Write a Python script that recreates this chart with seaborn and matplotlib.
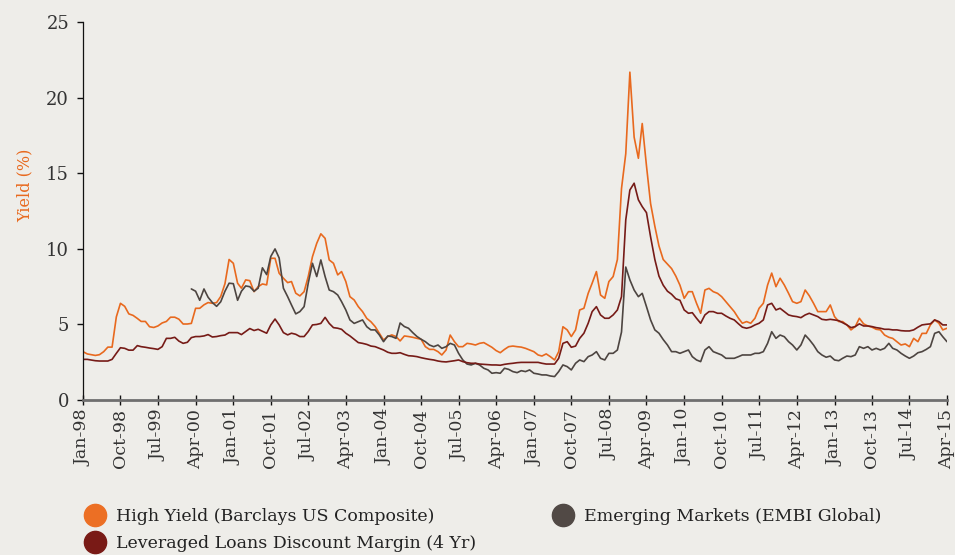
import matplotlib
matplotlib.use("Agg")
import matplotlib.pyplot as plt
from matplotlib.lines import Line2D
import numpy as np
import pandas as pd
import seaborn as sns

# monthly readings, Jan-98 .. Apr-15 (one row per year)
high_yield = [
    3.2, 3.05, 3.0, 2.95, 3.0, 3.2, 3.5, 3.5, 5.5, 6.4, 6.2, 5.7,
    5.6, 5.4, 5.2, 5.2, 4.85, 4.8, 4.9, 5.1, 5.2, 5.48, 5.48, 5.35,
    5.03, 5.03, 5.07, 6.07, 6.07, 6.3, 6.45, 6.4, 6.45, 6.85, 7.7, 9.3,
    9.05, 7.73, 7.4, 7.95, 7.9, 7.17, 7.5, 7.68, 7.62, 9.38, 9.38, 8.39,
    8.06, 7.77, 7.84, 7.07, 6.89, 7.17, 8.17, 9.49, 10.37, 11.0, 10.7, 9.27,
    9.05, 8.28, 8.5, 7.84, 6.84, 6.62, 6.18, 5.85, 5.4, 5.18, 4.86, 4.42,
    3.97, 4.2, 4.31, 4.2, 3.91, 4.24, 4.2, 4.15, 4.08, 4.02, 3.53, 3.35,
    3.35, 3.2, 2.98, 3.31, 4.3, 3.86, 3.53, 3.53, 3.75, 3.71, 3.64, 3.75,
    3.8, 3.64, 3.49, 3.27, 3.13, 3.35, 3.53, 3.57, 3.53, 3.5, 3.42, 3.31,
    3.2, 2.98, 2.91, 3.05, 2.87, 2.65, 3.2, 4.85, 4.64, 4.2, 4.64, 5.96,
    6.07, 7.06, 7.73, 8.5, 6.95, 6.73, 7.84, 8.17, 9.3, 14.0, 16.3, 21.7,
    17.4, 16.0, 18.3, 15.5, 13.0, 11.5, 10.2, 9.3, 9.0, 8.7, 8.2, 7.6,
    6.73, 7.17, 7.17, 6.4, 5.74, 7.28, 7.39, 7.17, 7.06, 6.84, 6.51, 6.18,
    5.85, 5.41, 5.08, 5.19, 5.08, 5.41, 6.07, 6.4, 7.61, 8.4, 7.5, 8.06,
    7.61, 7.06, 6.51, 6.4, 6.51, 7.28, 6.9, 6.4, 5.85, 5.85, 5.85, 6.29,
    5.52, 5.19, 5.19, 4.97, 4.64, 4.86, 5.41, 5.04, 4.9, 4.82, 4.68, 4.64,
    4.3, 4.15, 4.08, 3.86, 3.64, 3.71, 3.53, 4.08, 3.86, 4.41, 4.41, 4.97,
    5.3, 5.08, 4.64, 4.75,
]

lev_loans = [
    2.69, 2.69, 2.65, 2.6, 2.58, 2.58, 2.58, 2.69, 3.09, 3.46, 3.42, 3.3,
    3.3, 3.6, 3.53, 3.49, 3.44, 3.4, 3.35, 3.53, 4.08, 4.08, 4.15, 3.9,
    3.75, 3.82, 4.13, 4.2, 4.2, 4.24, 4.33, 4.17, 4.2, 4.26, 4.3, 4.46,
    4.46, 4.46, 4.33, 4.53, 4.73, 4.6, 4.68, 4.55, 4.42, 4.97, 5.36, 4.97,
    4.46, 4.31, 4.42, 4.35, 4.2, 4.2, 4.53, 4.97, 5.0, 5.07, 5.47, 5.07,
    4.79, 4.75, 4.68, 4.42, 4.24, 4.02, 3.8, 3.75, 3.68, 3.57, 3.53, 3.42,
    3.31, 3.16, 3.09, 3.09, 3.13, 3.02, 2.93, 2.91, 2.87, 2.8, 2.74, 2.69,
    2.65, 2.58, 2.54, 2.52, 2.56, 2.6, 2.65, 2.54, 2.47, 2.43, 2.43, 2.38,
    2.36, 2.34, 2.32, 2.32, 2.3, 2.36, 2.4, 2.43, 2.47, 2.49, 2.49, 2.49,
    2.49, 2.49, 2.43, 2.38, 2.38, 2.38, 2.76, 3.75, 3.86, 3.49, 3.57, 4.08,
    4.42, 5.08, 5.85, 6.18, 5.63, 5.41, 5.41, 5.63, 5.96, 6.84, 11.92, 13.9,
    14.35, 13.25, 12.8, 12.4, 10.8, 9.3, 8.2, 7.6, 7.2, 7.0, 6.7, 6.6,
    5.96, 5.74, 5.78, 5.41, 5.08, 5.63, 5.85, 5.85, 5.74, 5.74, 5.56, 5.41,
    5.3, 5.04, 4.82, 4.75, 4.82, 4.97, 5.08, 5.3, 6.29, 6.4, 5.96, 6.07,
    5.85, 5.63, 5.56, 5.52, 5.45, 5.63, 5.74, 5.63, 5.52, 5.34, 5.3, 5.34,
    5.3, 5.25, 5.12, 4.97, 4.79, 4.86, 5.04, 4.9, 4.9, 4.86, 4.79, 4.75,
    4.68, 4.68, 4.64, 4.64, 4.59, 4.57, 4.57, 4.64, 4.82, 4.97, 5.01, 5.04,
    5.3, 5.19, 4.97, 4.97,
]

# EMBI starts Mar-00
emerging = [
    7.35, 7.2, 6.6, 7.35, 6.8, 6.45, 6.2, 6.5, 7.2, 7.73,
    7.7, 6.6, 7.2, 7.55, 7.5, 7.2, 7.4, 8.75, 8.3, 9.5, 10.0, 9.4,
    7.4, 6.84, 6.29, 5.7, 5.85, 6.18, 7.73, 9.05, 8.17, 9.27, 8.17, 7.28,
    7.17, 6.95, 6.51, 5.96, 5.3, 5.07, 5.18, 5.3, 4.85, 4.64, 4.64, 4.31,
    3.86, 4.24, 4.2, 4.08, 5.1, 4.86, 4.75, 4.46, 4.2, 4.02, 3.86, 3.64,
    3.53, 3.64, 3.42, 3.53, 3.75, 3.64, 3.09, 2.65, 2.38, 2.32, 2.43, 2.32,
    2.1, 1.99, 1.77, 1.81, 1.77, 2.1, 2.03, 1.88, 1.81, 1.94, 1.88, 1.99,
    1.77, 1.72, 1.66, 1.66, 1.59, 1.55, 1.88, 2.32, 2.21, 1.99, 2.43, 2.65,
    2.54, 2.87, 2.98, 3.2, 2.76, 2.65, 3.09, 3.09, 3.31, 4.5, 8.8, 7.95,
    7.28, 6.84, 7.06, 6.18, 5.3, 4.64, 4.42, 4.0, 3.64, 3.2, 3.2, 3.09,
    3.2, 3.31, 2.87, 2.65, 2.54, 3.31, 3.53, 3.2, 3.09, 2.98, 2.76, 2.76,
    2.76, 2.87, 2.98, 2.98, 2.98, 3.09, 3.09, 3.2, 3.75, 4.52, 4.08, 4.3,
    4.19, 3.86, 3.64, 3.31, 3.64, 4.3, 4.0, 3.64, 3.2, 2.98, 2.83, 2.91,
    2.65, 2.6, 2.76, 2.91, 2.87, 2.98, 3.53, 3.42, 3.53, 3.31, 3.42, 3.31,
    3.42, 3.75, 3.42, 3.31, 3.09, 2.91, 2.76, 2.91, 3.13, 3.2, 3.35, 3.53,
    4.41, 4.52, 4.19, 3.86,
]

series_names = [
    "High Yield (Barclays US Composite)",
    "Emerging Markets (EMBI Global)",
    "Leveraged Loans Discount Margin (4 Yr)",
]
colors = {
    series_names[0]: "#e8691e",
    series_names[1]: "#4d4541",
    series_names[2]: "#761b17",
}
legend_colors = ["#ec6f24", "#791a16", "#514945"]

tick_labels = [
    "Jan-98", "Oct-98", "Jul-99", "Apr-00", "Jan-01", "Oct-01", "Jul-02",
    "Apr-03", "Jan-04", "Oct-04", "Jul-05", "Apr-06", "Jan-07", "Oct-07",
    "Jul-08", "Apr-09", "Jan-10", "Oct-10", "Jul-11", "Apr-12", "Jan-13",
    "Oct-13", "Jul-14", "Apr-15",
]
y_ticks = [0, 5, 10, 15, 20, 25]

df = pd.concat([
    pd.DataFrame({"date": pd.date_range("1998-01-01", periods=len(high_yield), freq="MS"),
                  "value": high_yield, "series": series_names[0]}),
    pd.DataFrame({"date": pd.date_range("2000-03-01", periods=len(emerging), freq="MS"),
                  "value": emerging, "series": series_names[1]}),
    pd.DataFrame({"date": pd.date_range("1998-01-01", periods=len(lev_loans), freq="MS"),
                  "value": lev_loans, "series": series_names[2]}),
], ignore_index=True)

bg = "#eeede9"
sns.set_theme(style="ticks")
plt.rcParams["font.family"] = ["DejaVu Serif", "DejaVu Sans"]

fig = plt.figure(figsize=(9.55, 5.55), dpi=100, facecolor=bg)
ax = fig.add_axes([83 / 955, 1 - 400 / 555, (947 - 83) / 955, (400 - 22.3) / 555])
ax.set_facecolor(bg)

sns.lineplot(data=df, x="date", y="value", hue="series", hue_order=series_names,
             palette=colors, linewidth=1.2, estimator=None, legend=False, ax=ax)

tick_dates = pd.to_datetime(tick_labels, format="%b-%y")
ax.set_xlim(pd.Timestamp("1998-01-01"), pd.Timestamp("2015-04-01"))
ax.set_xticks(tick_dates)
ax.set_xticklabels(tick_labels, rotation=90, fontsize=12.5, color="#333333")
ax.set_ylim(0, 25)
ax.set_yticks(y_ticks)
ax.set_yticklabels([str(v) for v in y_ticks], fontsize=13, color="#333333")
ax.set_xlabel("")
ax.set_ylabel("")

ax.spines["top"].set_visible(False)
ax.spines["right"].set_visible(False)
ax.spines["left"].set_color("#111111")
ax.spines["left"].set_linewidth(0.9)
ax.spines["bottom"].set_color("#6f6f6f")
ax.spines["bottom"].set_linewidth(2)
ax.tick_params(axis="x", direction="inout", length=7, width=1, color="#111111", pad=3)
ax.tick_params(axis="y", direction="out", length=4, width=1, color="#111111", pad=6)

fig.text(25 / 955, 1 - 185 / 555, "Yield (%)", rotation=90, ha="center", va="center",
         fontsize=11.5, color="#e8691e")

handles = [Line2D([], [], marker="o", linestyle="", markersize=16, color=c)
           for c in legend_colors]
labels = [series_names[0], series_names[2], series_names[1]]
fig.legend(handles, labels, ncol=2, loc="upper left", bbox_to_anchor=(69 / 955, 1 - 499 / 555),
           frameon=False, fontsize=12.5, handletextpad=0.2, columnspacing=4.0,
           labelspacing=0.62, borderpad=0, labelcolor="#222222")

fig.savefig("out.png", dpi=100, facecolor=bg)
